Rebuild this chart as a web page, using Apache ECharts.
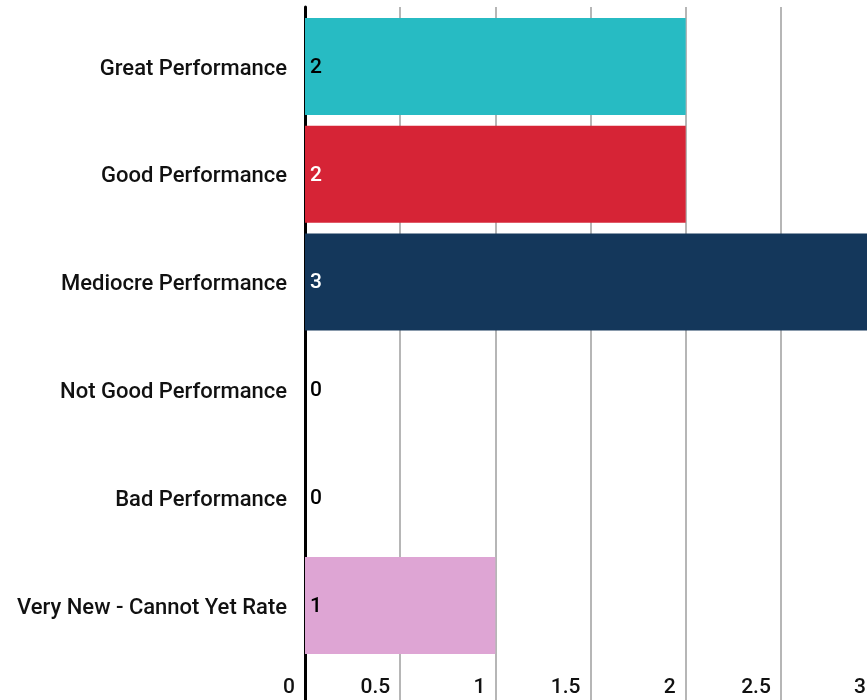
<!DOCTYPE html>
<html>
<head>
<meta charset="utf-8">
<script src="https://cdn.jsdelivr.net/npm/echarts@6/dist/echarts.min.js"></script>
<style>html,body{margin:0;padding:0;background:#fff;overflow:hidden}#c{width:876px;height:700px}</style>
</head>
<body>
<div id="c"></div>
<script>
const categories = ['Great Performance','Good Performance','Mediocre Performance','Not Good Performance','Bad Performance','Very New - Cannot Yet Rate'];
const values = [2, 2, 3, 0, 0, 1];
const barColors = ['#27BBC3','#D62436','#14375B','#14375B','#14375B','#DEA5D4'];
const labelColors = ['#000','#fff','#fff','#000','#000','#000'];
const xMin = 0, xMax = 3, xInterval = 0.5;

const chart = echarts.init(document.getElementById('c'));
const font = 'Roboto';
chart.setOption({
  animation: false,
  grid: [
    {left: 305, right: 0, top: 7, bottom: 0},
    {left: 305, right: 0, top: 12.6, bottom: 40.6}
  ],
  xAxis: [
    {gridIndex: 0, type: 'value', min: xMin, max: xMax, interval: xInterval,
     axisLine: {show: false}, axisTick: {show: false},
     splitLine: {show: true, lineStyle: {color: '#9e9e9e', width: 1.5}},
     axisLabel: {inside: true, margin: 2, align: 'right', padding: [0, 10, 0, 0],
       color: '#111', fontFamily: font, fontWeight: 500, fontSize: 21}},
    {gridIndex: 1, type: 'value', min: xMin, max: xMax, show: false}
  ],
  yAxis: [
    {gridIndex: 0, type: 'value', min: 0, max: 1,
     axisLine: {show: true, lineStyle: {color: '#000', width: 3}},
     axisTick: {show: false}, axisLabel: {show: false}, splitLine: {show: false}},
    {gridIndex: 1, type: 'category', data: categories, inverse: true,
     axisLine: {show: false}, axisTick: {show: false},
     axisLabel: {margin: 18, formatter: v => '{a|' + v + '}',
       rich: {a: {padding: [5, 0, 0, 0], color: '#111', fontFamily: font, fontWeight: 500, fontSize: 22}}}}
  ],
  series: [{
    type: 'bar', xAxisIndex: 1, yAxisIndex: 1, barCategoryGap: '10%',
    data: values.map((v, i) => ({
      value: v,
      itemStyle: {color: barColors[i]},
      label: {color: labelColors[i]}
    })),
    label: {show: true, position: 'insideLeft', distance: 5, offset: [0, 1],
      fontFamily: font, fontWeight: 500, fontSize: 21}
  }]
});
</script>
</body>
</html>
